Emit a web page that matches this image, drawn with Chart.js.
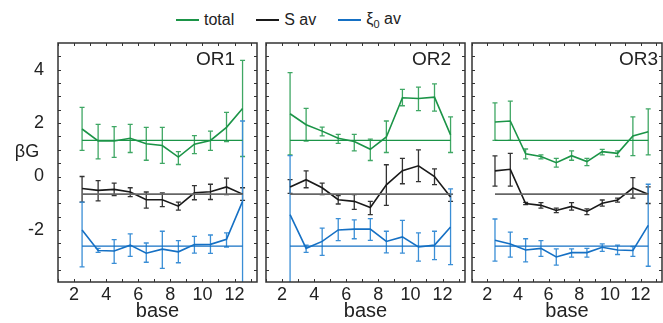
<!DOCTYPE html>
<html>
<head>
<meta charset="utf-8">
<script src="https://cdn.jsdelivr.net/npm/chart.js@4.4.1/dist/chart.umd.min.js"></script>
<style>
  body { margin: 0; background: #fff; width: 663px; height: 323px; position: relative; overflow: hidden;
         font-family: "Liberation Sans", Arial, sans-serif; }
  canvas { position: absolute; top: 0; }
  #legend { position: absolute; left: 176px; top: 10px; display: flex; align-items: center; font-size: 16px; color: #222; }
  .item { display: flex; align-items: center; margin-right: 22px; }
  .sw { display: inline-block; width: 23px; height: 0; border-top: 2px solid; margin-right: 5px; }
  sub { font-size: 11px; }
</style>
</head>
<body>
<div id="legend">
  <div class="item"><span class="sw" style="border-color:#1b9447"></span>total</div>
  <div class="item"><span class="sw" style="border-color:#1a1a1a"></span>S av</div>
  <div class="item"><span class="sw" style="border-color:#1570c4"></span><span>ξ<sub>0</sub> av</span></div>
</div>
<canvas id="c1" width="262" height="323" style="left:0px;width:262px;height:323px"></canvas>
<canvas id="c2" width="206" height="323" style="left:262px;width:206px;height:323px"></canvas>
<canvas id="c3" width="195" height="323" style="left:468px;width:195px;height:323px"></canvas>
<script>
// x positions (base) shared by all panels
const bases = [2.5, 3.5, 4.5, 5.5, 6.5, 7.5, 8.5, 9.5, 10.5, 11.5, 12.5];
const refX = [2.5, 12.5];
const totalRef = 1.35, savRef = -0.66, xiRef = -2.61;

const xMajor = [2, 4, 6, 8, 10, 12];
const xMinor = [1, 2, 3, 4, 5, 6, 7, 8, 9, 10, 11, 12, 13];
const yMajor = [-2, 0, 2, 4];
const yMinor = [-3.5, -3, -2.5, -2, -1.5, -1, -0.5, 0, 0.5, 1, 1.5, 2, 2.5, 3, 3.5, 4, 4.5];

// OR1
const total1   = [1.78, 1.33, 1.33, 1.43, 1.23, 1.16, 0.73, 1.21, 1.35, 1.84, 2.55];
const total1Lo = [0.98, 0.66, 0.72, 0.90, 0.61, 0.49, 0.45, 0.86, 0.98, 1.31, 0.75];
const total1Hi = [2.59, 1.95, 1.87, 1.95, 1.84, 1.84, 0.93, 1.53, 1.70, 2.40, 4.35];
const sav1   = [-0.45, -0.52, -0.48, -0.58, -0.87, -0.87, -1.11, -0.61, -0.57, -0.39, -0.66];
const sav1Lo = [-0.96, -0.91, -0.71, -0.75, -1.18, -1.13, -1.26, -0.87, -0.86, -0.68, -0.89];
const sav1Hi = [0.00, -0.15, -0.25, -0.42, -0.58, -0.61, -0.96, -0.34, -0.29, -0.06, -0.42];
const xi1   = [-2.00, -2.77, -2.79, -2.57, -2.87, -2.72, -2.82, -2.55, -2.54, -2.35, -0.93];
const xi1Lo = [-3.38, -2.84, -3.25, -2.99, -3.21, -3.44, -3.23, -2.87, -2.88, -2.64, -4.5];
const xi1Hi = [-0.96, -2.69, -2.36, -2.15, -2.49, -2.05, -2.40, -2.24, -2.19, -2.11, 2.08];

// OR2
const total2   = [2.35, 1.94, 1.70, 1.43, 1.31, 1.02, 1.48, 2.95, 2.92, 2.97, 1.56];
const total2Lo = [0.81, 1.33, 1.52, 1.24, 0.96, 0.60, 0.90, 2.65, 2.47, 2.45, 0.90];
const total2Hi = [3.89, 2.55, 1.85, 1.58, 1.58, 1.40, 2.08, 3.26, 3.35, 3.47, 2.23];
const sav2   = [-0.39, -0.12, -0.42, -0.87, -0.93, -1.16, -0.31, 0.22, 0.40, 0.00, -0.77];
const sav2Lo = [-0.63, -0.42, -0.68, -1.03, -1.23, -1.43, -1.08, -0.27, -0.19, -0.30, -0.93];
const sav2Hi = [-0.12, 0.21, -0.25, -0.71, -0.68, -0.93, 0.44, 0.68, 1.00, 0.29, -0.66];
const xi2   = [-1.43, -2.69, -2.43, -2.00, -1.97, -1.97, -2.43, -2.26, -2.64, -2.57, -1.89];
const xi2Lo = [-4.5, -2.84, -2.95, -2.40, -2.33, -2.39, -2.86, -2.87, -3.17, -3.11, -3.30];
const xi2Hi = [0.78, -2.57, -1.93, -1.58, -1.62, -1.58, -2.05, -1.64, -2.11, -2.05, -0.46];

// OR3
const total3   = [2.04, 2.08, 0.85, 0.75, 0.52, 0.78, 0.56, 0.93, 0.87, 1.52, 1.68];
const total3Lo = [1.35, 1.35, 0.66, 0.66, 0.35, 0.61, 0.41, 0.81, 0.75, 0.78, 0.81];
const total3Hi = [2.76, 2.82, 1.03, 0.81, 0.68, 0.96, 0.68, 1.02, 0.96, 2.23, 2.53];
const sav3   = [0.21, 0.27, -1.01, -1.08, -1.27, -1.12, -1.31, -1.00, -0.88, -0.43, -0.66];
const sav3Lo = [-0.36, -0.36, -1.05, -1.18, -1.35, -1.26, -1.43, -1.11, -0.96, -0.81, -1.01];
const sav3Hi = [0.77, 0.87, -0.97, -0.98, -1.18, -0.98, -1.21, -0.88, -0.81, -0.04, -0.39];
const xi3   = [-2.39, -2.53, -2.75, -2.69, -3.01, -2.85, -2.85, -2.65, -2.75, -2.77, -1.83];
const xi3Lo = [-3.17, -3.02, -3.20, -2.99, -3.32, -3.02, -3.02, -2.80, -2.92, -2.99, -3.36];
const xi3Hi = [-1.59, -2.08, -2.33, -2.40, -2.71, -2.71, -2.69, -2.52, -2.57, -2.62, -0.29];

const FONT = '"Liberation Sans", Arial, sans-serif';
const green = '#1b9447', black = '#1a1a1a', blue = '#1570c4';

const pts = (xs, ys) => xs.map((x, i) => ({ x: x, y: ys[i] }));

function series(label, vals, lo, hi, color, errColor) {
  return {
    label: label, data: pts(bases, vals), errLo: lo, errHi: hi, errColor: errColor,
    borderColor: color, borderWidth: 1.6, pointRadius: 0, fill: false, tension: 0
  };
}
function refLine(val, color, w) {
  return {
    data: pts(refX, [val, val]), borderColor: color, borderWidth: w, pointRadius: 0, fill: false
  };
}

const framePlugin = {
  id: 'frame',
  beforeDatasetsDraw(chart) {
    const ctx = chart.ctx, a = chart.chartArea;
    const xs = chart.scales.x, ys = chart.scales.y;
    ctx.save();
    ctx.beginPath();
    ctx.rect(a.left, a.top, a.right - a.left, a.bottom - a.top);
    ctx.clip();
    chart.data.datasets.forEach(ds => {
      if (!ds.errLo) return;
      ctx.strokeStyle = ds.errColor;
      ctx.lineWidth = 1.3;
      bases.forEach((b, i) => {
        const px = xs.getPixelForValue(b);
        const y1 = ys.getPixelForValue(ds.errLo[i]);
        const y2 = ys.getPixelForValue(ds.errHi[i]);
        ctx.beginPath();
        ctx.moveTo(px, y1); ctx.lineTo(px, y2);
        ctx.moveTo(px - 2.5, y1); ctx.lineTo(px + 2.5, y1);
        ctx.moveTo(px - 2.5, y2); ctx.lineTo(px + 2.5, y2);
        ctx.stroke();
      });
    });
    ctx.restore();
  },
  afterDraw(chart) {
    const ctx = chart.ctx, a = chart.chartArea;
    const xs = chart.scales.x, ys = chart.scales.y;
    const o = chart.options.plugins.frame;
    ctx.save();
    ctx.strokeStyle = '#333';
    ctx.lineWidth = 1.5;
    ctx.strokeRect(a.left, a.top, a.right - a.left, a.bottom - a.top);
    ctx.lineWidth = 1;
    ctx.beginPath();
    yMinor.forEach(v => {
      const py = Math.round(ys.getPixelForValue(v)) + 0.5;
      ctx.moveTo(a.left, py); ctx.lineTo(a.left + 3, py);
      ctx.moveTo(a.right, py); ctx.lineTo(a.right - 3, py);
    });
    xMinor.forEach(v => {
      const px = Math.round(xs.getPixelForValue(v)) + 0.5;
      ctx.moveTo(px, a.bottom); ctx.lineTo(px, a.bottom - 3);
      ctx.moveTo(px, a.top); ctx.lineTo(px, a.top + 3);
    });
    ctx.stroke();
    ctx.fillStyle = '#222';
    ctx.font = '19px ' + FONT;
    ctx.textAlign = 'right';
    ctx.textBaseline = 'top';
    ctx.fillText(o.label, a.right - o.labelRight, a.top + 7);
    if (o.yTitle) {
      ctx.font = '18px ' + FONT;
      ctx.textAlign = 'center';
      ctx.textBaseline = 'middle';
      ctx.fillText(o.yTitle, 27, 152);
    }
    ctx.restore();
  }
};

const panels = [
  { id: 'c1', label: 'OR1', labelRight: 22, padL: 0, padR: 5, showY: true,
    t: [total1, total1Lo, total1Hi], s: [sav1, sav1Lo, sav1Hi], k: [xi1, xi1Lo, xi1Hi] },
  { id: 'c2', label: 'OR2', labelRight: 14, padL: 4, padR: 3, showY: false,
    t: [total2, total2Lo, total2Hi], s: [sav2, sav2Lo, sav2Hi], k: [xi2, xi2Lo, xi2Hi] },
  { id: 'c3', label: 'OR3', labelRight: 4, padL: 4, padR: 1, showY: false,
    t: [total3, total3Lo, total3Hi], s: [sav3, sav3Lo, sav3Hi], k: [xi3, xi3Lo, xi3Hi] }
];

panels.forEach(p => {
  new Chart(document.getElementById(p.id), {
    type: 'line',
    data: {
      datasets: [
        refLine(totalRef, green, 1.2),
        refLine(savRef, '#666', 1.8),
        refLine(xiRef, blue, 1.2),
        series('total', p.t[0], p.t[1], p.t[2], green, '#3fa764'),
        series('S av', p.s[0], p.s[1], p.s[2], black, '#333'),
        series('ξ0 av', p.k[0], p.k[1], p.k[2], blue, '#3a8ed6')
      ]
    },
    options: {
      responsive: false,
      animation: false,
      layout: { padding: { top: 43, left: p.padL, right: p.padR, bottom: 0 } },
      plugins: {
        legend: { display: false },
        tooltip: { enabled: false },
        frame: { label: p.label, labelRight: p.labelRight, yTitle: p.showY ? 'βG' : null }
      },
      scales: {
        x: {
          type: 'linear', min: 1, max: 13.4,
          afterBuildTicks: s => { s.ticks = xMajor.map(v => ({ value: v })); },
          afterFit: s => { s.height = 41; },
          grid: { display: false },
          border: { display: false },
          ticks: { color: '#222', padding: -6, font: { family: FONT, size: 18 }, maxRotation: 0, autoSkip: false },
          title: { display: true, text: 'base', color: '#222', padding: { top: 0, bottom: 0 },
                   font: { family: FONT, size: 20 } }
        },
        y: {
          type: 'linear', min: -3.95, max: 5.0,
          display: p.showY,
          afterBuildTicks: s => { s.ticks = yMajor.map(v => ({ value: v })); },
          afterFit: s => { s.width = p.showY ? 58 : 0; },
          grid: { display: false },
          border: { display: false },
          ticks: { color: '#222', padding: 6, font: { family: FONT, size: 18 } }
        }
      }
    },
    plugins: [framePlugin]
  });
});
</script>
</body>
</html>
